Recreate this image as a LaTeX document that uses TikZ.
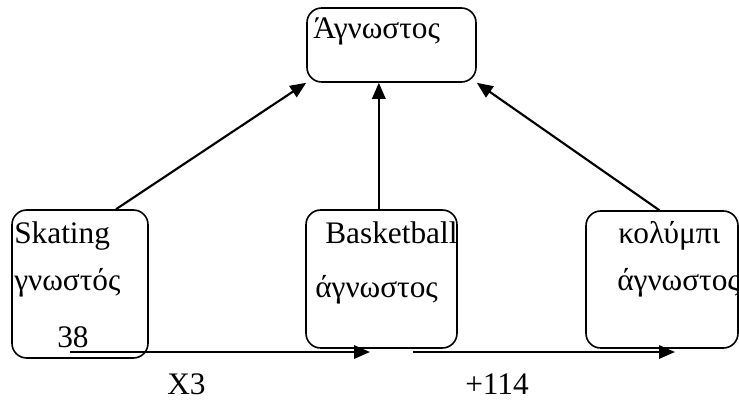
\documentclass[tikz,border=0pt]{standalone}
\usepackage{fontspec}
\setmainfont{Liberation Serif}
\usetikzlibrary{arrows.meta,calc}

\begin{document}
\begin{tikzpicture}[
        x=0.75pt, y=-0.75pt,
        font=\fontsize{23.5}{28}\selectfont,
        box/.style={draw, line width=1.2pt, rounded corners=11pt, inner sep=0pt},
        txt/.style={anchor=base west, inner sep=0pt},
        link/.style={-{Triangle[length=12pt, width=10pt]}, line width=1.6pt}
    ]
    \useasboundingbox (0,0) rectangle (739,400);

    % Boxes
    \node[box, minimum width=126.75pt, minimum height=55.5pt]  (top)    at (391.5,45)  {};
    \node[box, minimum width=102pt,    minimum height=111pt]   (skate)  at (80,284)    {};
    \node[box, minimum width=113.25pt, minimum height=103.5pt] (basket) at (381.5,279) {};
    \node[box, minimum width=114pt,    minimum height=102.75pt](swim)   at (662,279.5) {};

    % Texts in the boxes
    \node[txt] (toptxt)  at (313,38)  {Άγνωστος};
    \node[txt] (skname)  at (14,243)  {Skating};
    \node[txt] (skstate) at (14,290)  {γνωστός};
    \node[txt] (skval)   at (57,347)  {38};
    \node[txt] (bkname)  at (325,243) {Basketball};
    \node[txt] (bkstate) at (315,297) {άγνωστος};
    \node[txt] (swname)  at (618,243) {κολύμπι};
    \node[txt] (swstate) at (617,290) {άγνωστος};

    % Arrows to the unknown
    \draw[link] ([xshift=27pt]skate.north) -- (top.south west);
    \draw[link] ([xshift=-2pt]basket.north) -- ([xshift=-2pt]basket.north |- top.south);
    \draw[link] ([xshift=-2pt]swim.north) -- (top.south east);

    % Bottom arrows
    \coordinate (x3start)   at (70,352);
    \coordinate (x3end)     at (370,352);
    \coordinate (p114start) at (413,352);
    \coordinate (p114end)   at (675,352);
    \draw[link] (x3start) -- (x3end);
    \draw[link] (p114start) -- (p114end);
    \node[txt] (x3)   at (167,394) {X3};
    \node[txt] (p114) at (465,394) {+114};
\end{tikzpicture}
\end{document}
